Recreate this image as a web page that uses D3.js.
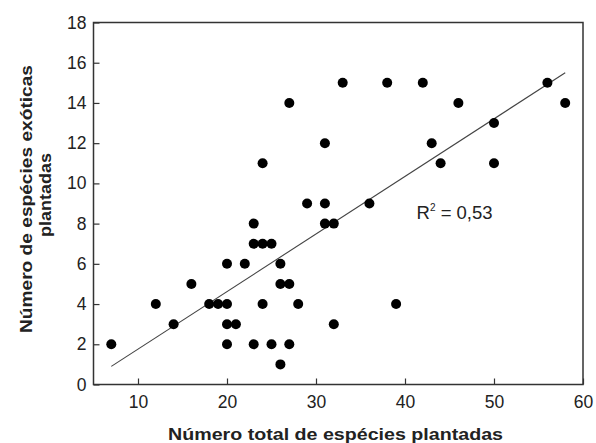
<!DOCTYPE html>
<html>
<head>
<meta charset="utf-8">
<script src="https://cdn.jsdelivr.net/npm/d3@7"></script>
<style>
    body { margin: 0; background: #fff; }
    text { font-family: Arial, "Liberation Sans", sans-serif; fill: #222; }
</style>
</head>
<body>
<div id="chart"></div>
<script>
    var width = 596
    var height = 443

    // total planted species (x) and exotic planted species (y)
    var totalSpecies = [7, 12, 14, 16, 18, 19, 20, 20, 20, 21, 20, 22, 23, 23, 24, 25, 24, 23, 25,
        26, 26, 27, 27, 26, 28, 27, 24, 33, 38, 42, 46, 56, 58, 50, 31, 43, 44, 50, 29, 31, 36,
        31, 32, 39, 32]
    var exoticSpecies = [2, 4, 3, 5, 4, 4, 4, 6, 3, 3, 2, 6, 8, 7, 7, 7, 4, 2, 2,
        6, 5, 5, 2, 1, 4, 14, 11, 15, 15, 15, 14, 15, 14, 13, 12, 12, 11, 11, 9, 9, 9,
        8, 8, 4, 3]

    // fitted line ends
    var fitX = [7, 58]
    var fitY = [0.9, 15.5]

    var xTicks = [10, 20, 30, 40, 50, 60]
    var yTicks = [0, 2, 4, 6, 8, 10, 12, 14, 16, 18]

    var margin = { top: 22.5, right: 13, bottom: 58.5, left: 93.5 }
    var innerW = width - margin.left - margin.right
    var innerH = height - margin.top - margin.bottom

    var x = d3.scaleLinear().domain([5, 60]).range([0, innerW])
    var y = d3.scaleLinear().domain([0, 18]).range([innerH, 0])

    var svg = d3.select('#chart').append('svg')
        .attr('width', width)
        .attr('height', height)

    var g = svg.append('g')
        .attr('transform', 'translate(' + margin.left + ',' + margin.top + ')')

    g.append('g')
        .attr('transform', 'translate(0,' + innerH + ')')
        .call(d3.axisBottom(x).tickValues(xTicks).tickSize(-6).tickPadding(11))

    g.append('g')
        .call(d3.axisLeft(y).tickValues(yTicks).tickSize(-6).tickPadding(7))

    g.selectAll('.domain').remove()
    g.selectAll('.tick line').attr('stroke', '#333').attr('stroke-width', 1.2)
    g.selectAll('.tick text')
        .style('font-size', '17.5px')
        .style('fill', '#222')

    // frame
    g.append('rect')
        .attr('width', innerW)
        .attr('height', innerH)
        .attr('fill', 'none')
        .attr('stroke', '#333')
        .attr('stroke-width', 1.5)

    // regression line
    g.append('line')
        .attr('x1', x(fitX[0]))
        .attr('y1', y(fitY[0]))
        .attr('x2', x(fitX[1]))
        .attr('y2', y(fitY[1]))
        .attr('stroke', '#444')
        .attr('stroke-width', 1.1)

    g.selectAll('.dot')
        .data(totalSpecies)
        .enter().append('circle')
        .attr('class', 'dot')
        .attr('cx', function(d) { return x(d) })
        .attr('cy', function(d, i) { return y(exoticSpecies[i]) })
        .attr('r', 5)
        .attr('fill', '#000')

    var r2 = g.append('text')
        .attr('x', x(41.3))
        .attr('y', y(8.25))
        .style('font-size', '18.5px')
    r2.append('tspan').text('R')
    r2.append('tspan').attr('dy', -8).style('font-size', '10px').text('2')
    r2.append('tspan').attr('dy', 8).text(' = 0,53')

    // the original lettering is set wide, so stretch to the measured widths
    svg.append('text')
        .attr('x', 168)
        .attr('y', 440)
        .attr('textLength', 335)
        .attr('lengthAdjust', 'spacingAndGlyphs')
        .style('font-size', '17px')
        .style('font-weight', 'bold')
        .text('Número total de espécies plantadas')

    svg.append('text')
        .attr('transform', 'translate(32,333) rotate(-90)')
        .attr('textLength', 268)
        .attr('lengthAdjust', 'spacingAndGlyphs')
        .style('font-size', '17px')
        .style('font-weight', 'bold')
        .text('Número de espécies exóticas')

    svg.append('text')
        .attr('transform', 'translate(51,237) rotate(-90)')
        .attr('textLength', 84)
        .attr('lengthAdjust', 'spacingAndGlyphs')
        .style('font-size', '17px')
        .style('font-weight', 'bold')
        .text('plantadas')
</script>
</body>
</html>
